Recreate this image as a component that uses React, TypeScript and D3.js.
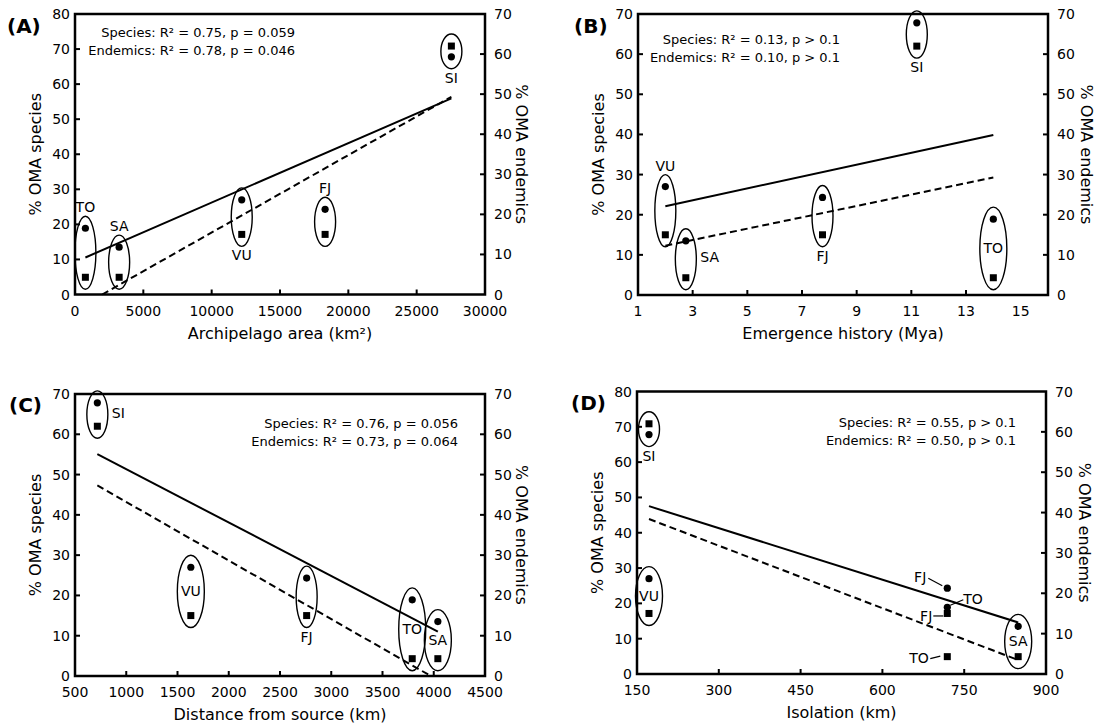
import React, { useRef, useEffect } from "react";
import * as d3 from "d3";

// islands, in the order used by every array below
const islands = ["SI", "VU", "FJ", "SA", "TO"];
const speciesPct = [67.8, 27, 24.3, 13.5, 18.9]; // left axis
const endemicsPct = [62, 15, 15, 4.3, 4.3]; // right axis

// predictors
const archipelagoArea = [27540, 12200, 18300, 3230, 760];
const emergenceHistory = [11.2, 2.0, 7.75, 2.75, 14.0];
const distanceFromSource = [718, 1630, 2760, 4040, 3790];
const isolation = [172, 172, 719, 849, 719];

const statsA = ["Species: R\u00b2 = 0.75, p = 0.059", "Endemics: R\u00b2 = 0.78, p = 0.046"];
const statsB = ["Species: R\u00b2 = 0.13, p > 0.1", "Endemics: R\u00b2 = 0.10, p > 0.1"];
const statsC = ["Species: R\u00b2 = 0.76, p = 0.056", "Endemics: R\u00b2 = 0.73, p = 0.064"];
const statsD = ["Species: R\u00b2 = 0.55, p > 0.1", "Endemics: R\u00b2 = 0.50, p > 0.1"];

const ticksA = [0, 5000, 10000, 15000, 20000, 25000, 30000];
const ticksB = [1, 3, 5, 7, 9, 11, 13, 15];
const ticksC = [500, 1000, 1500, 2000, 2500, 3000, 3500, 4000, 4500];
const ticksD = [150, 300, 450, 600, 750, 900];

const FONT = "'DejaVu Sans', Verdana, sans-serif";

const panels = [
  {
    tag: "(A)", xs: archipelagoArea, xDomain: [0, 30000], xTicks: ticksA, leftMax: 80,
    xTitle: "Archipelago area (km\u00b2)", stats: statsA,
    left: 75, top: 14, width: 410, height: 280.5,
    tagX: 7, tagY: 33, statsX: 295, statsY: 23, rightTitleGap: 31,
    labels: { TO: "above", SA: "above", VU: "below", FJ: "above", SI: "below" },
  },
  {
    tag: "(B)", xs: emergenceHistory, xDomain: [1, 16], xTicks: ticksB, leftMax: 70,
    xTitle: "Emergence history (Mya)", stats: statsB,
    left: 638, top: 14, width: 410, height: 281,
    tagX: 574, tagY: 33, statsX: 840, statsY: 29.5, rightTitleGap: 33,
    labels: { VU: "above", SA: "right", FJ: "below", SI: "below", TO: "inside" },
  },
  {
    tag: "(C)", xs: distanceFromSource, xDomain: [500, 4500], xTicks: ticksC, leftMax: 70,
    xTitle: "Distance from source (km)", stats: statsC,
    left: 75, top: 394, width: 410, height: 282,
    tagX: 9, tagY: 412, statsX: 458, statsY: 34, rightTitleGap: 31,
    labels: { SI: "right", VU: "inside", FJ: "below", TO: "inside", SA: "inside" },
  },
  {
    tag: "(D)", xs: isolation, xDomain: [150, 900], xTicks: ticksD, leftMax: 80,
    xTitle: "Isolation (km)", stats: statsD,
    left: 637, top: 391.5, width: 409, height: 282.5,
    tagX: 571, tagY: 410, statsX: 1016, statsY: 35, rightTitleGap: 33,
    labels: { SI: "below", VU: "inside", SA: "inside", FJ: "leader", TO: "leader" },
  },
];

// leader-line labels used in panel D (offsets from the marker)
const leaderNotes = [
  { island: "FJ", series: "species", tx: -21, ty: -6.5, anchor: "end", line: [-19, -10, -5, -2.5] },
  { island: "TO", series: "species", tx: 16, ty: -3.5, anchor: "start", line: [3, -2, 16, -7.5] },
  { island: "FJ", series: "endemics", tx: -15, ty: 8, anchor: "end", line: [-14, 2.5, -4, 2.5] },
  { island: "TO", series: "endemics", tx: -18.5, ty: 6.5, anchor: "end", line: [-17, 2, -7, -0.5] },
];

function fit(xs: number[], ys: number[]) {
  const mx = d3.mean(xs) as number;
  const my = d3.mean(ys) as number;
  let sxy = 0, sxx = 0;
  xs.forEach((x, i) => { sxy += (x - mx) * (ys[i] - my); sxx += (x - mx) * (x - mx); });
  const b = sxy / sxx;
  return { a: my - b * mx, b };
}

const App = () => {
  const svgRef = useRef<SVGSVGElement | null>(null);

  useEffect(() => {
    if (!svgRef.current) return;
    const svg = d3.select(svgRef.current);
    svg.selectAll("*").remove();

    panels.forEach((p) => {
      const x = d3.scaleLinear().domain(p.xDomain).range([p.left, p.left + p.width]);
      const yL = d3.scaleLinear().domain([0, p.leftMax]).range([p.top + p.height, p.top]);
      const yR = d3.scaleLinear().domain([0, 70]).range([p.top + p.height, p.top]);
      const bottom = p.top + p.height;
      const right = p.left + p.width;
      const g = svg.append("g");

      // inward ticks
      const tick = 5;
      p.xTicks.slice(1, -1).forEach((t) => {
        g.append("line").attr("x1", x(t)).attr("x2", x(t)).attr("y1", bottom).attr("y2", bottom - tick)
          .attr("stroke", "#000").attr("stroke-width", 2);
      });
      d3.range(10, p.leftMax, 10).forEach((t) => {
        g.append("line").attr("x1", p.left).attr("x2", p.left + tick).attr("y1", yL(t)).attr("y2", yL(t))
          .attr("stroke", "#000").attr("stroke-width", 2);
      });
      d3.range(10, 70, 10).forEach((t) => {
        g.append("line").attr("x1", right).attr("x2", right - tick).attr("y1", yR(t)).attr("y2", yR(t))
          .attr("stroke", "#000").attr("stroke-width", 2);
      });

      // tick labels
      p.xTicks.forEach((t) => {
        g.append("text").attr("x", x(t)).attr("y", bottom + 21).attr("text-anchor", "middle")
          .style("font-size", "14px").style("font-family", FONT).text(t);
      });
      d3.range(0, p.leftMax + 1, 10).forEach((t) => {
        g.append("text").attr("x", p.left - 5).attr("y", yL(t) + 5).attr("text-anchor", "end")
          .style("font-size", "14px").style("font-family", FONT).text(t);
      });
      d3.range(0, 71, 10).forEach((t) => {
        g.append("text").attr("x", right + 9).attr("y", yR(t) + 5).attr("text-anchor", "start")
          .style("font-size", "14px").style("font-family", FONT).text(t);
      });

      // axis titles
      g.append("text").attr("x", (p.left + right) / 2).attr("y", bottom + 44).attr("text-anchor", "middle")
        .style("font-size", "16px").style("font-family", FONT).text(p.xTitle);
      g.append("text")
        .attr("transform", `translate(${p.left - 34},${p.top + p.height / 2}) rotate(-90)`)
        .attr("text-anchor", "middle").style("font-size", "16px").style("font-family", FONT)
        .text("% OMA species");
      g.append("text")
        .attr("transform", `translate(${right + p.rightTitleGap},${p.top + p.height / 2}) rotate(90)`)
        .attr("text-anchor", "middle").style("font-size", "16px").style("font-family", FONT)
        .text("% OMA endemics");

      // panel tag and stats
      g.append("text").attr("x", p.tagX).attr("y", p.tagY).style("font-size", "20px")
        .style("font-weight", "bold").style("font-family", FONT).text(p.tag);
      p.stats.forEach((s, i) => {
        g.append("text").attr("x", p.statsX).attr("y", p.top + p.statsY + i * 18).attr("text-anchor", "end")
          .style("font-size", "13px").style("font-family", FONT).text(s);
      });

      // regression lines, clipped at zero
      const xMin = d3.min(p.xs) as number;
      const xMax = d3.max(p.xs) as number;
      const drawFit = (ys: number[], yScale: d3.ScaleLinear<number, number>, dashed: boolean) => {
        const { a, b } = fit(p.xs, ys);
        let x0 = xMin, x1 = xMax;
        const zero = -a / b;
        if (a + b * x0 < 0) x0 = zero;
        if (a + b * x1 < 0) x1 = zero;
        g.append("line")
          .attr("x1", x(x0)).attr("y1", yScale(a + b * x0))
          .attr("x2", x(x1)).attr("y2", yScale(a + b * x1))
          .attr("stroke", "#000").attr("stroke-width", 2)
          .attr("stroke-dasharray", dashed ? "7,4" : null);
      };
      drawFit(speciesPct, yL, false);
      drawFit(endemicsPct, yR, true);

      // ellipses and island labels
      islands.forEach((isl, i) => {
        const place = (p.labels as Record<string, string>)[isl];
        const cx = x(p.xs[i]);
        const ys = yL(speciesPct[i]);
        const ye = yR(endemicsPct[i]);
        if (place === "leader") return;
        const cy = (ys + ye) / 2;
        const ry = Math.abs(ys - ye) / 2 + 12;
        const rx = place === "inside" ? 13.5 : 10.5;
        g.append("ellipse").attr("cx", cx).attr("cy", cy).attr("rx", rx).attr("ry", ry)
          .attr("fill", "none").attr("stroke", "#000").attr("stroke-width", 1.4);
        const lab = g.append("text").style("font-size", "14px").style("font-family", FONT).text(isl);
        if (place === "above") lab.attr("x", cx).attr("y", cy - ry - 4).attr("text-anchor", "middle");
        if (place === "below") lab.attr("x", cx).attr("y", cy + ry + 14).attr("text-anchor", "middle");
        if (place === "inside") lab.attr("x", cx).attr("y", cy + 5).attr("text-anchor", "middle");
        if (place === "right") lab.attr("x", cx + rx + 4).attr("y", cy + 3).attr("text-anchor", "start");
      });

      if (p.tag === "(D)") {
        leaderNotes.forEach((n) => {
          const i = islands.indexOf(n.island);
          const px = x(p.xs[i]);
          const py = n.series === "species" ? yL(speciesPct[i]) : yR(endemicsPct[i]);
          g.append("line").attr("x1", px + n.line[0]).attr("y1", py + n.line[1])
            .attr("x2", px + n.line[2]).attr("y2", py + n.line[3])
            .attr("stroke", "#000").attr("stroke-width", 1.2);
          g.append("text").attr("x", px + n.tx).attr("y", py + n.ty).attr("text-anchor", n.anchor)
            .style("font-size", "14px").style("font-family", FONT).text(n.island);
        });
      }

      // markers: circles = species (left), squares = endemics (right)
      islands.forEach((isl, i) => {
        g.append("circle").attr("cx", x(p.xs[i])).attr("cy", yL(speciesPct[i])).attr("r", 3.6).attr("fill", "#000");
        g.append("rect").attr("x", x(p.xs[i]) - 3.5).attr("y", yR(endemicsPct[i]) - 3.5)
          .attr("width", 7).attr("height", 7).attr("fill", "#000");
      });

      // frame
      g.append("rect").attr("x", p.left).attr("y", p.top).attr("width", p.width).attr("height", p.height)
        .attr("fill", "none").attr("stroke", "#000").attr("stroke-width", 2.5);
    });
  }, []);

  return (
    <svg ref={svgRef} width={1096} height={728}
      style={{ position: "absolute", left: 0, top: 0, background: "#fff" }} />
  );
};

export default App;
